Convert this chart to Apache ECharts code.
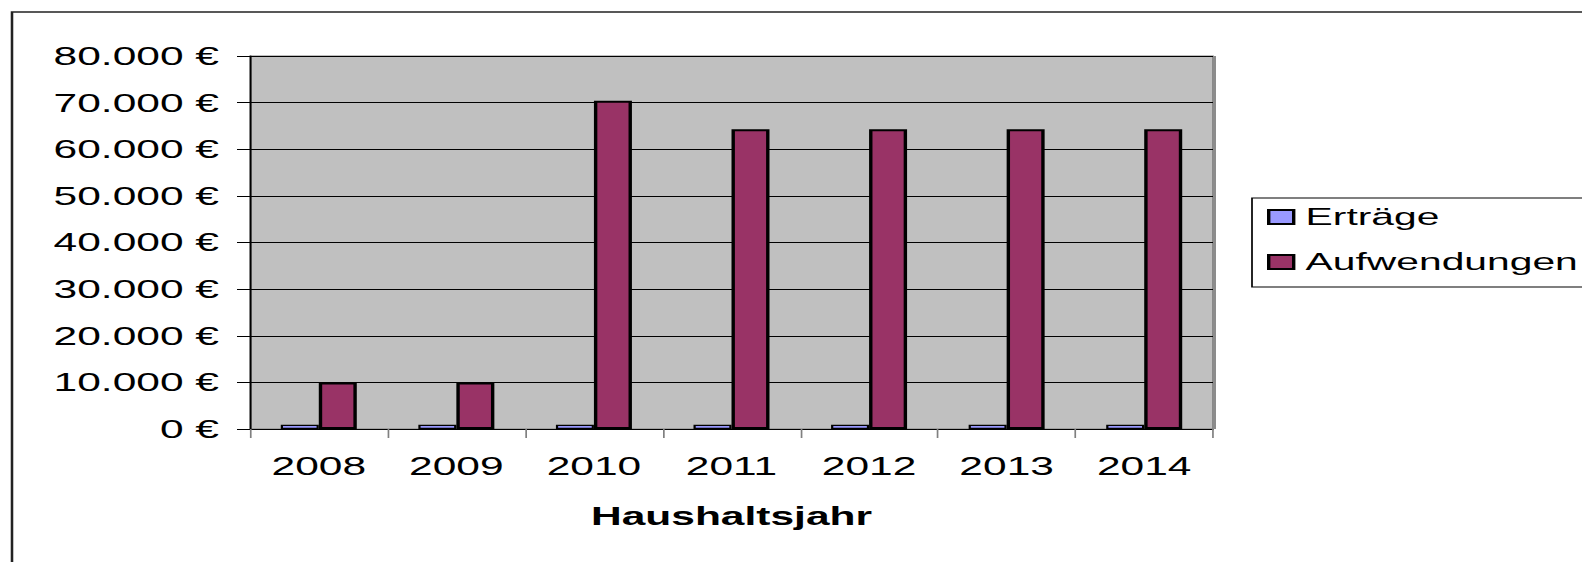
<!DOCTYPE html>
<html>
<head>
<meta charset="utf-8">
<script src="https://cdn.jsdelivr.net/npm/echarts@6/dist/echarts.min.js"></script>
<style>
  html, body { margin: 0; padding: 0; background: #fff; overflow: hidden; }
  #wrap { width: 1582px; height: 562px; overflow: hidden; position: relative; }
  /* the old office chart is stretched horizontally, so draw narrow and widen */
  #chart { width: 930.6px; height: 562px; transform: scaleX(1.7); transform-origin: 0 0; }
</style>
</head>
<body>
<div id="wrap"><div id="chart"></div></div>
<script>
const SX = 1.7

const years = ['2008', '2009', '2010', '2011', '2012', '2013', '2014']
const ertraege = [900, 900, 900, 900, 900, 900, 900]
const aufwendungen = [10000, 10000, 70400, 64300, 64300, 64300, 64300]
const yMax = 80000
const yStep = 10000

// horizontal positions are given in real pixels and divided by the stretch
const nx = (px) => px / SX

const fmtEuro = (v) => String(v).replace(/\B(?=(\d{3})+(?!\d))/g, '.') + ' €'

const chart = echarts.init(document.getElementById('chart'), null, { renderer: 'svg' })

const font = 'Liberation Sans, Arial, sans-serif'

const option = {
  animation: false,
  backgroundColor: '#fff',
  textStyle: { fontFamily: font, color: '#000' },
  graphic: [
    {
      type: 'rect',
      shape: { x: nx(12), y: 12, width: 2000, height: 2000 },
      style: { fill: 'none', stroke: '#222', lineWidth: 1.5 },
      silent: true
    },
    {
      // shadow edge on the right of the plot area
      type: 'rect',
      shape: { x: nx(1213), y: 56, width: nx(3), height: 373 },
      style: { fill: '#8c8c8c' },
      silent: true
    }
  ],
  grid: {
    left: nx(250),
    top: 56,
    width: nx(1213 - 250),
    height: 373,
    show: true,
    backgroundColor: '#c0c0c0',
    borderColor: '#808080',
    borderWidth: 1,
    containLabel: false
  },
  legend: {
    left: nx(1252),
    top: 198,
    orient: 'vertical',
    data: ['Erträge', 'Aufwendungen'],
    backgroundColor: '#fff',
    borderColor: '#000',
    borderWidth: 1,
    padding: [7, nx(30), 13, nx(15)],
    itemWidth: nx(25),
    itemHeight: 14,
    itemGap: 21,
    textStyle: { fontSize: 24, fontFamily: font, color: '#000', padding: [0, 0, 0, 2] },
    icon: 'rect'
  },
  xAxis: {
    type: 'category',
    data: years,
    name: 'Haushaltsjahr',
    nameLocation: 'middle',
    nameGap: 75,
    nameTextStyle: { fontSize: 25, fontWeight: 'bold', fontFamily: font, color: '#000' },
    axisLine: { lineStyle: { color: '#000', width: 1 } },
    axisTick: { show: true, length: 9, lineStyle: { color: '#808080' } },
    axisLabel: { fontSize: 25, color: '#000', margin: 25, fontFamily: font }
  },
  yAxis: {
    type: 'value',
    min: 0,
    max: yMax,
    interval: yStep,
    axisLine: { show: true, lineStyle: { color: '#000', width: 1 } },
    axisTick: { show: true, length: nx(13), lineStyle: { color: '#000' } },
    axisLabel: { fontSize: 25, color: '#000', margin: nx(31), fontFamily: font, formatter: fmtEuro },
    splitLine: { show: true, lineStyle: { color: '#000', width: 1 } }
  },
  series: [
    {
      name: 'Erträge',
      type: 'bar',
      data: ertraege,
      barWidth: nx(38),
      barGap: '0%',
      itemStyle: { color: '#9999ff', borderColor: '#000', borderWidth: 1.3 }
    },
    {
      name: 'Aufwendungen',
      type: 'bar',
      data: aufwendungen,
      barWidth: nx(38),
      barGap: '0%',
      itemStyle: { color: '#993366', borderColor: '#000', borderWidth: 2 }
    }
  ]
}

chart.setOption(option)
</script>
</body>
</html>
